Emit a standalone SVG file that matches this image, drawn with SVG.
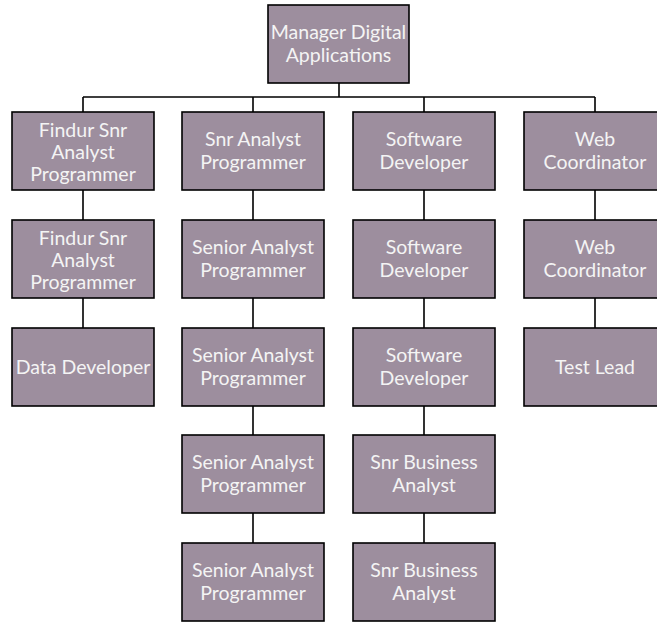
<svg xmlns="http://www.w3.org/2000/svg" width="657" height="622" viewBox="0 0 657 622">
  <style>
    .box { fill: #9d8e9e; stroke: #000; stroke-width: 1.6; }
    .lbl { font-family: Lato, "Liberation Sans", sans-serif; font-size: 19.5px; fill: #f4f4f4; text-anchor: middle; }
    .wire { stroke: #000; stroke-width: 1.6; fill: none; }
  </style>
  <rect width="657" height="622" fill="#fff"/>

  <!-- connectors -->
  <g id="connectors">
    <path class="wire" d="M339 83 V97 M83 97 H595 M83 97 V112 M253 97 V112 M424 97 V112 M595 97 V112"/>
    <path class="wire" d="M83 190 V220 M83 298 V328"/>
    <path class="wire" d="M253 190 V220 M253 298 V328 M253 406 V435 M253 513 V543"/>
    <path class="wire" d="M424 190 V220 M424 298 V328 M424 406 V435 M424 513 V543"/>
    <path class="wire" d="M595 190 V220 M595 298 V328"/>
  </g>

  <!-- top -->
  <g id="manager">
    <rect class="box" x="268" y="5" width="141" height="78"/>
    <text class="lbl" x="338.5" y="39">Manager Digital</text>
    <text class="lbl" x="338.5" y="62">Applications</text>
  </g>

  <!-- column 1 -->
  <g id="findur1">
    <rect class="box" x="12" y="112" width="142" height="78"/>
    <text class="lbl" x="83" y="137">Findur Snr</text>
    <text class="lbl" x="83" y="159">Analyst</text>
    <text class="lbl" x="83" y="181">Programmer</text>
  </g>
  <g id="findur2">
    <rect class="box" x="12" y="220" width="142" height="78"/>
    <text class="lbl" x="83" y="245">Findur Snr</text>
    <text class="lbl" x="83" y="267">Analyst</text>
    <text class="lbl" x="83" y="289">Programmer</text>
  </g>
  <g id="data-dev">
    <rect class="box" x="12" y="328" width="142" height="78"/>
    <text class="lbl" x="83" y="374">Data Developer</text>
  </g>

  <!-- column 2 -->
  <g id="snr-ap">
    <rect class="box" x="182" y="112" width="142" height="78"/>
    <text class="lbl" x="253" y="146">Snr Analyst</text>
    <text class="lbl" x="253" y="169">Programmer</text>
  </g>
  <g id="sap1">
    <rect class="box" x="182" y="220" width="142" height="78"/>
    <text class="lbl" x="253" y="254">Senior Analyst</text>
    <text class="lbl" x="253" y="277">Programmer</text>
  </g>
  <g id="sap2">
    <rect class="box" x="182" y="328" width="142" height="78"/>
    <text class="lbl" x="253" y="362">Senior Analyst</text>
    <text class="lbl" x="253" y="385">Programmer</text>
  </g>
  <g id="sap3">
    <rect class="box" x="182" y="435" width="142" height="78"/>
    <text class="lbl" x="253" y="469">Senior Analyst</text>
    <text class="lbl" x="253" y="492">Programmer</text>
  </g>
  <g id="sap4">
    <rect class="box" x="182" y="543" width="142" height="78"/>
    <text class="lbl" x="253" y="577">Senior Analyst</text>
    <text class="lbl" x="253" y="600">Programmer</text>
  </g>

  <!-- column 3 -->
  <g id="swdev1">
    <rect class="box" x="353" y="112" width="142" height="78"/>
    <text class="lbl" x="424" y="146">Software</text>
    <text class="lbl" x="424" y="169">Developer</text>
  </g>
  <g id="swdev2">
    <rect class="box" x="353" y="220" width="142" height="78"/>
    <text class="lbl" x="424" y="254">Software</text>
    <text class="lbl" x="424" y="277">Developer</text>
  </g>
  <g id="swdev3">
    <rect class="box" x="353" y="328" width="142" height="78"/>
    <text class="lbl" x="424" y="362">Software</text>
    <text class="lbl" x="424" y="385">Developer</text>
  </g>
  <g id="sba1">
    <rect class="box" x="353" y="435" width="142" height="78"/>
    <text class="lbl" x="424" y="469">Snr Business</text>
    <text class="lbl" x="424" y="492">Analyst</text>
  </g>
  <g id="sba2">
    <rect class="box" x="353" y="543" width="142" height="78"/>
    <text class="lbl" x="424" y="577">Snr Business</text>
    <text class="lbl" x="424" y="600">Analyst</text>
  </g>

  <!-- column 4 -->
  <g id="webco1">
    <rect class="box" x="524" y="112" width="142" height="78"/>
    <text class="lbl" x="595" y="146">Web</text>
    <text class="lbl" x="595" y="169">Coordinator</text>
  </g>
  <g id="webco2">
    <rect class="box" x="524" y="220" width="142" height="78"/>
    <text class="lbl" x="595" y="254">Web</text>
    <text class="lbl" x="595" y="277">Coordinator</text>
  </g>
  <g id="testlead">
    <rect class="box" x="524" y="328" width="142" height="78"/>
    <text class="lbl" x="595" y="374">Test Lead</text>
  </g>
</svg>
